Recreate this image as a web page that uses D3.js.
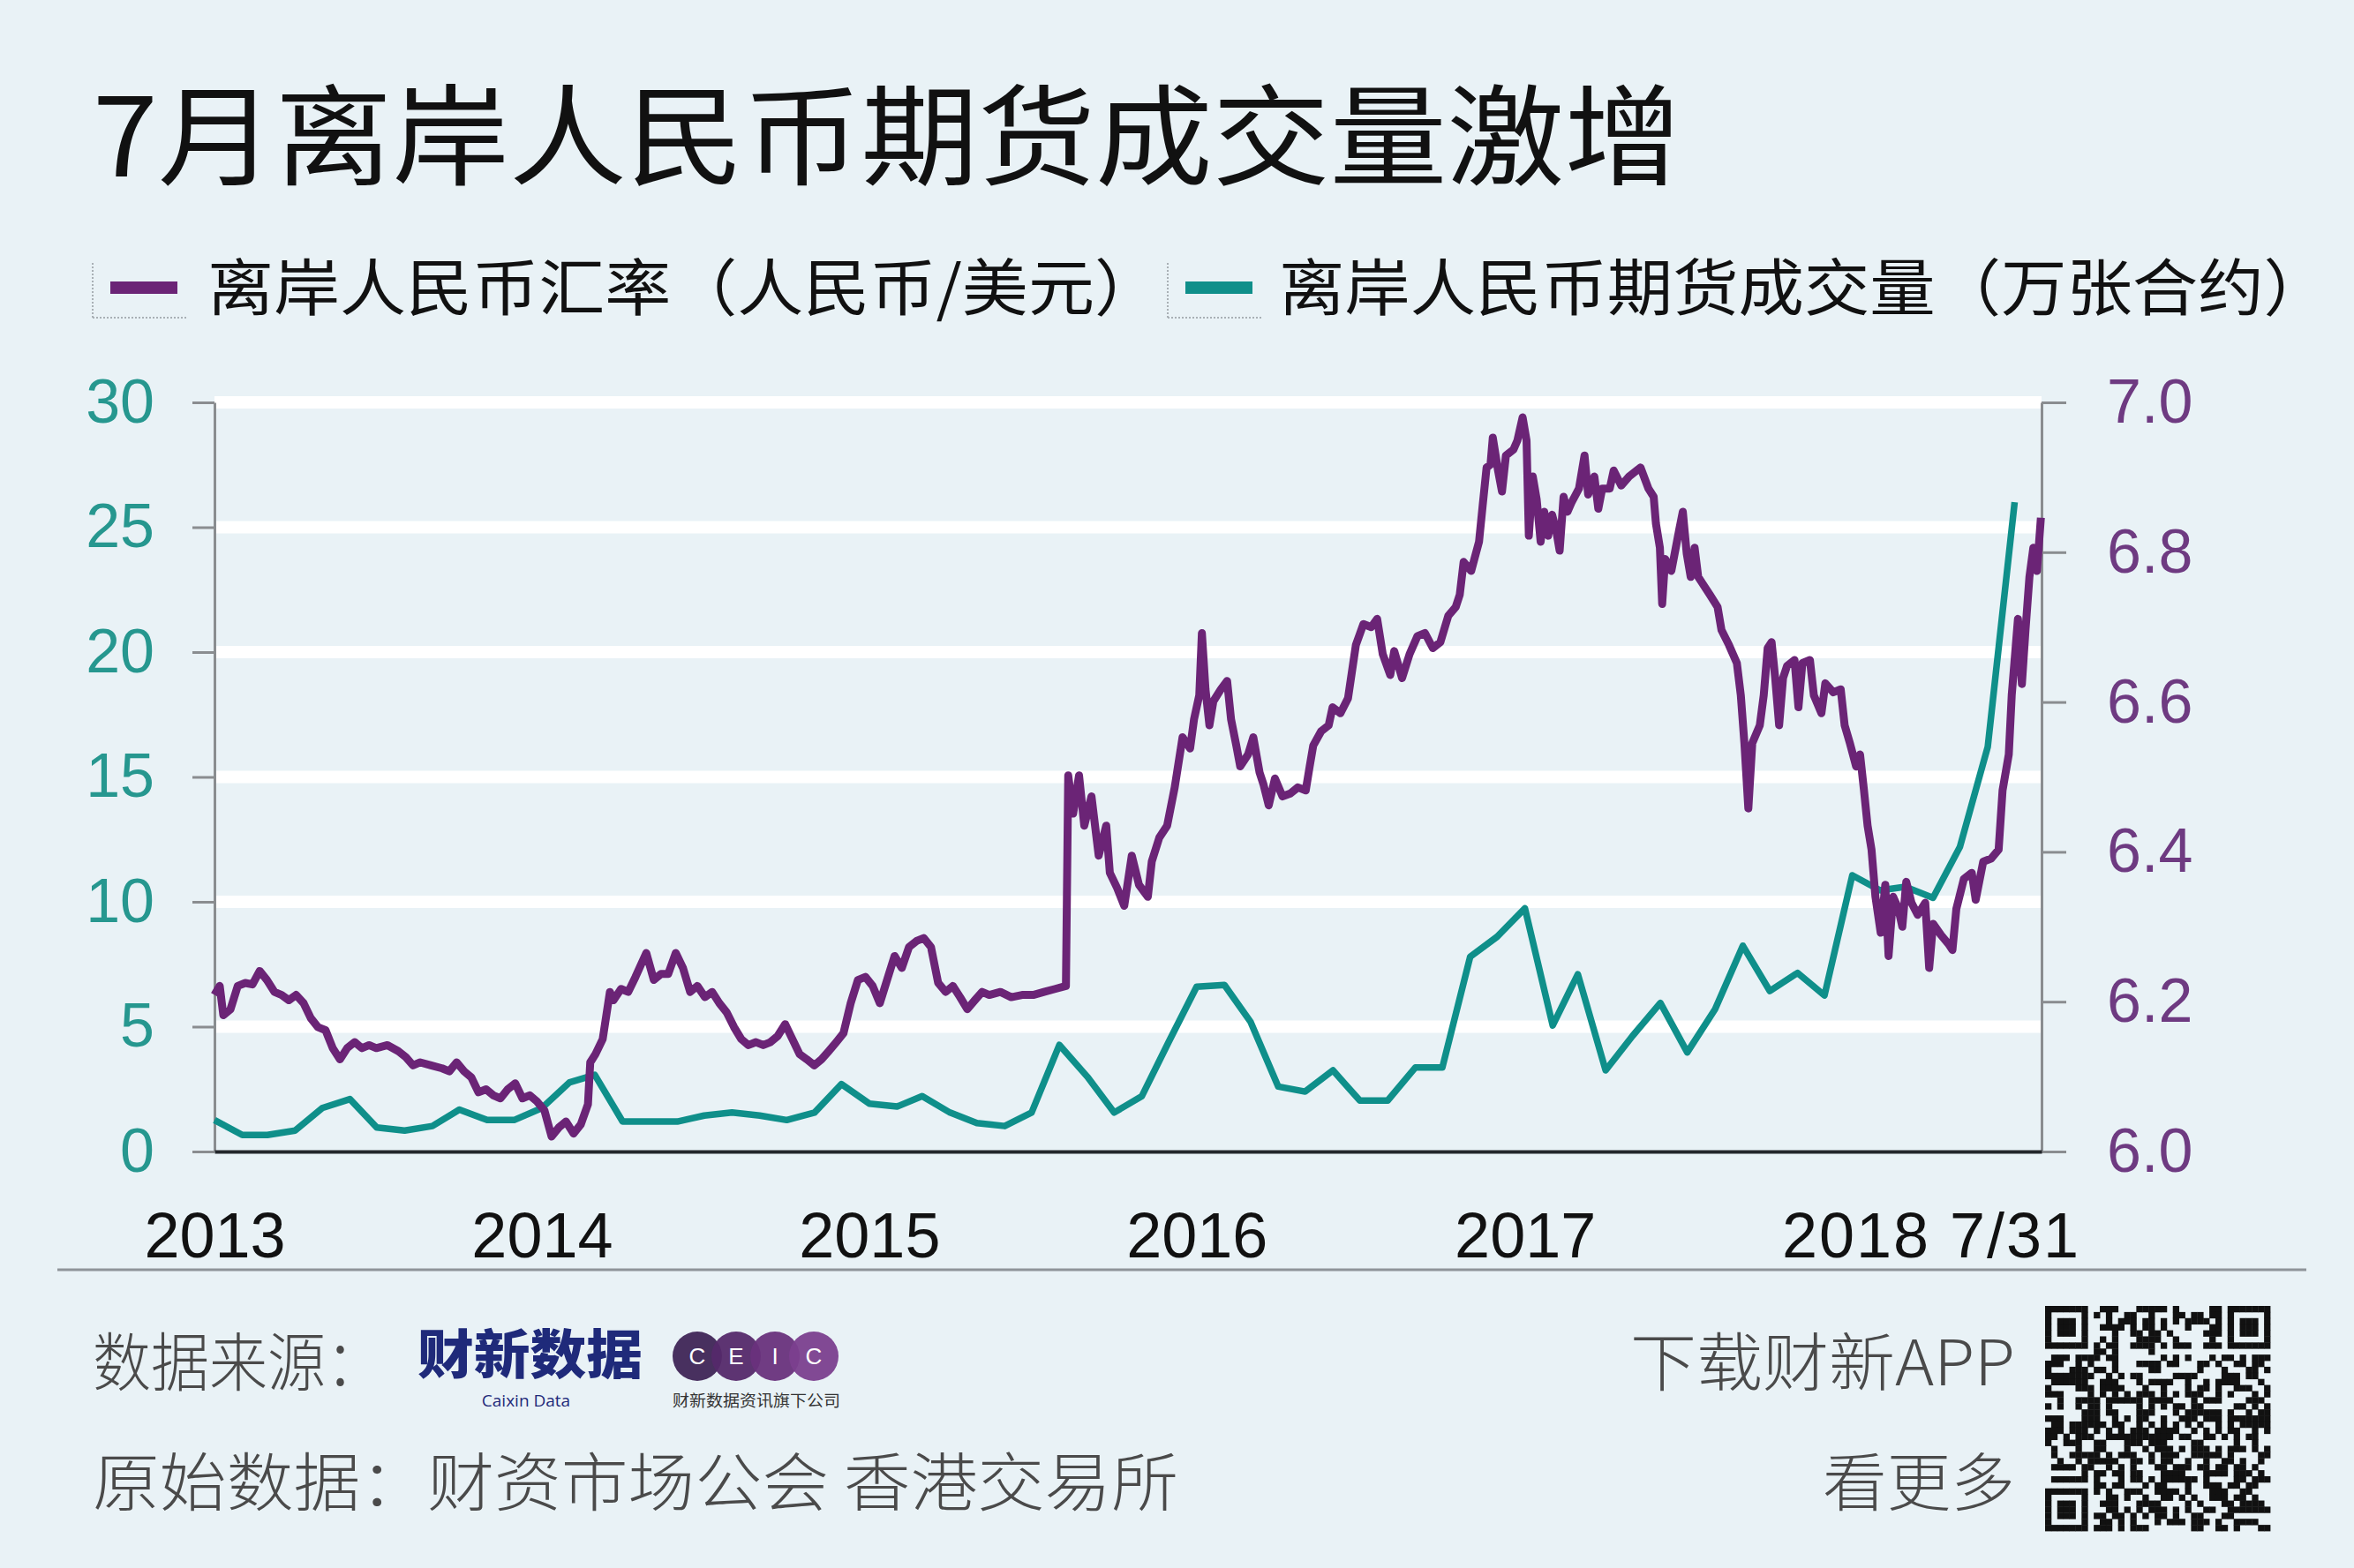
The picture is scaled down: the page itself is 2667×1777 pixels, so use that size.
<!DOCTYPE html>
<html lang="zh">
<head>
<meta charset="UTF-8"/>
<title>7月离岸人民币期货成交量激增</title>
<script src="https://d3js.org/d3.v7.min.js"></script>
<style>
  body { margin: 0; background: #e9f2f6; }
  svg { display: block; }
</style>
</head>
<body>
<script>
// ---- data ----
var yearTicks = [2013, 2014, 2015, 2016, 2017, 2018];
var endLabel = "7/31";
var volTicks = [0, 5, 10, 15, 20, 25, 30];
var rateTicks = [6.0, 6.2, 6.4, 6.6, 6.8, 7.0];

// 离岸人民币期货成交量（万张合约）, monthly from 2013-01 to 2018-07
var volume = [
  1.26, 0.66, 0.66, 0.84, 1.74, 2.10, 0.96, 0.84, 1.02, 1.68, 1.26, 1.26,
  1.74, 2.77, 3.07, 1.20, 1.20, 1.20, 1.44, 1.56, 1.44, 1.26, 1.56, 2.70,
  1.92, 1.80, 2.22, 1.56, 1.14, 1.02, 1.56, 4.27, 3.00, 1.56, 2.22, 4.40,
  6.60, 6.67, 5.20, 2.60, 2.40, 3.25, 2.04, 2.04, 3.37, 3.37, 7.80, 8.60,
  9.74, 5.05, 7.10, 3.25, 4.63, 5.95, 3.97, 5.70, 8.24, 6.43, 7.15, 6.25,
  11.06, 10.46, 10.60, 10.16, 12.20, 16.20, 26.00
];

// 离岸人民币汇率（人民币/美元）: [years after 2013-01-01, rate]
var cnhRate = [
  [0.000,6.209],[0.016,6.221],[0.027,6.182],[0.049,6.190],[0.071,6.221],[0.094,6.225],
  [0.116,6.223],[0.138,6.241],[0.160,6.229],[0.183,6.213],[0.205,6.209],[0.227,6.202],
  [0.249,6.209],[0.272,6.198],[0.294,6.178],[0.316,6.166],[0.339,6.162],[0.361,6.138],
  [0.383,6.123],[0.405,6.138],[0.428,6.146],[0.450,6.138],[0.472,6.142],[0.494,6.138],
  [0.528,6.142],[0.561,6.134],[0.584,6.126],[0.606,6.115],[0.628,6.119],[0.661,6.115],
  [0.695,6.111],[0.717,6.107],[0.739,6.119],[0.762,6.107],[0.784,6.099],[0.806,6.079],
  [0.829,6.083],[0.851,6.075],[0.873,6.071],[0.895,6.083],[0.918,6.091],[0.940,6.071],
  [0.962,6.075],[0.984,6.067],[1.007,6.055],[1.029,6.020],[1.051,6.032],[1.073,6.040],
  [1.096,6.024],[1.118,6.036],[1.140,6.063],[1.147,6.119],[1.163,6.130],[1.185,6.150],
  [1.207,6.213],[1.218,6.202],[1.241,6.217],[1.263,6.213],[1.285,6.233],[1.318,6.265],
  [1.341,6.229],[1.363,6.237],[1.385,6.237],[1.408,6.265],[1.430,6.245],[1.452,6.213],
  [1.474,6.221],[1.497,6.206],[1.519,6.213],[1.541,6.198],[1.563,6.186],[1.586,6.166],
  [1.608,6.150],[1.630,6.142],[1.653,6.146],[1.675,6.142],[1.697,6.146],[1.719,6.154],
  [1.742,6.170],[1.764,6.150],[1.786,6.130],[1.808,6.123],[1.831,6.115],[1.853,6.123],
  [1.875,6.134],[1.898,6.146],[1.920,6.158],[1.942,6.198],[1.964,6.229],[1.987,6.233],
  [2.009,6.221],[2.031,6.198],[2.053,6.229],[2.076,6.261],[2.098,6.245],[2.120,6.273],
  [2.143,6.281],[2.165,6.285],[2.187,6.273],[2.209,6.225],[2.232,6.213],[2.254,6.221],
  [2.276,6.206],[2.298,6.190],[2.321,6.202],[2.343,6.213],[2.365,6.209],[2.399,6.213],
  [2.432,6.206],[2.465,6.209],[2.499,6.209],[2.532,6.213],[2.566,6.217],[2.599,6.221],
  [2.606,6.502],[2.621,6.451],[2.639,6.502],[2.655,6.435],[2.677,6.474],[2.699,6.395],
  [2.722,6.435],[2.733,6.372],[2.755,6.352],[2.777,6.328],[2.800,6.395],[2.822,6.356],
  [2.849,6.340],[2.861,6.387],[2.884,6.419],[2.908,6.435],[2.931,6.486],[2.955,6.553],
  [2.978,6.538],[2.990,6.577],[3.006,6.609],[3.014,6.692],[3.025,6.617],[3.037,6.569],
  [3.049,6.601],[3.072,6.617],[3.091,6.628],[3.103,6.577],[3.119,6.542],[3.131,6.514],
  [3.155,6.530],[3.171,6.553],[3.190,6.506],[3.202,6.490],[3.218,6.462],[3.237,6.498],
  [3.260,6.474],[3.284,6.478],[3.307,6.486],[3.331,6.482],[3.343,6.514],[3.354,6.542],
  [3.378,6.561],[3.401,6.569],[3.413,6.593],[3.437,6.585],[3.460,6.605],[3.484,6.676],
  [3.507,6.704],[3.531,6.700],[3.549,6.711],[3.566,6.664],[3.589,6.636],[3.601,6.668],
  [3.625,6.632],[3.648,6.664],[3.672,6.688],[3.695,6.692],[3.719,6.672],[3.742,6.680],
  [3.766,6.715],[3.789,6.727],[3.801,6.743],[3.813,6.787],[3.836,6.775],[3.860,6.814],
  [3.871,6.862],[3.883,6.913],[3.895,6.917],[3.902,6.953],[3.918,6.909],[3.930,6.881],
  [3.942,6.929],[3.965,6.937],[3.977,6.949],[3.993,6.980],[4.005,6.949],[4.012,6.822],
  [4.024,6.901],[4.036,6.870],[4.048,6.814],[4.059,6.854],[4.071,6.822],[4.083,6.850],
  [4.095,6.830],[4.106,6.802],[4.118,6.874],[4.130,6.854],[4.142,6.866],[4.165,6.885],
  [4.182,6.929],[4.193,6.877],[4.212,6.901],[4.224,6.858],[4.236,6.885],[4.259,6.885],
  [4.271,6.909],[4.294,6.889],[4.318,6.901],[4.341,6.909],[4.353,6.913],[4.377,6.885],
  [4.393,6.874],[4.400,6.838],[4.412,6.806],[4.419,6.731],[4.428,6.791],[4.447,6.775],
  [4.471,6.830],[4.482,6.854],[4.494,6.798],[4.506,6.767],[4.518,6.806],[4.529,6.767],
  [4.541,6.759],[4.565,6.743],[4.588,6.727],[4.600,6.696],[4.623,6.676],[4.647,6.652],
  [4.659,6.609],[4.670,6.545],[4.682,6.458],[4.694,6.545],[4.717,6.569],[4.729,6.609],
  [4.741,6.672],[4.753,6.680],[4.764,6.632],[4.776,6.569],[4.788,6.632],[4.800,6.648],
  [4.823,6.656],[4.835,6.593],[4.847,6.652],[4.870,6.656],[4.882,6.609],[4.905,6.585],
  [4.917,6.625],[4.941,6.613],[4.964,6.617],[4.976,6.569],[4.992,6.545],[5.011,6.514],
  [5.023,6.530],[5.035,6.482],[5.046,6.435],[5.058,6.403],[5.070,6.340],[5.086,6.292],
  [5.100,6.356],[5.110,6.261],[5.124,6.340],[5.140,6.324],[5.152,6.300],[5.164,6.360],
  [5.180,6.332],[5.199,6.316],[5.222,6.332],[5.234,6.245],[5.246,6.304],[5.270,6.289],
  [5.293,6.277],[5.305,6.269],[5.317,6.324],[5.340,6.364],[5.364,6.372],[5.376,6.336],
  [5.399,6.387],[5.423,6.391],[5.446,6.403],[5.458,6.482],[5.477,6.530],[5.486,6.609],
  [5.505,6.711],[5.517,6.624],[5.528,6.696],[5.540,6.767],[5.552,6.806],[5.563,6.775],
  [5.575,6.846]
];

// ---- layout ----
var W = 2667, H = 1777;
var plotL = 243, plotR = 2313, plotT = 456, plotB = 1305;
var teal = "#0f8f8a", purple = "#6b2476";
var cjk = "'Noto Sans CJK SC', 'Noto Sans', sans-serif";
var num = "'Liberation Sans', Arial, sans-serif";

var svg = d3.select("body").append("svg")
  .attr("width", W).attr("height", H);

svg.append("rect").attr("width", W).attr("height", H).attr("fill", "#e9f2f6");

var start = new Date(2013, 0, 1);
var x = d3.scaleTime()
  .domain([start, new Date(2018, 6, 31)])
  .range([plotL, plotR]);
var yVol = d3.scaleLinear().domain([0, 30]).range([plotB, plotT]);
var yRate = d3.scaleLinear().domain([6, 7]).range([plotB, plotT]);

function yearsToDate(t) {
  return new Date(start.getTime() + t * 365.25 * 86400000);
}
var months = d3.timeMonth.range(start, new Date(2018, 7, 1));

// title
svg.append("text")
  .attr("x", 105).attr("y", 200)
  .attr("font-family", cjk).attr("font-size", 124).attr("font-weight", 400)
  .attr("fill", "#111")
  .attr("textLength", 1800).attr("lengthAdjust", "spacingAndGlyphs")
  .text("7月离岸人民币期货成交量激增");

// legend
var legend = [
  {label: "离岸人民币汇率（人民币/美元）", color: purple, bx: 105, tx: 235, len: 1080},
  {label: "离岸人民币期货成交量（万张合约）", color: teal, bx: 1323, tx: 1449, len: 1190}
];
legend.forEach(function(l) {
  var g = svg.append("g");
  g.append("line").attr("x1", l.bx).attr("x2", l.bx).attr("y1", 298).attr("y2", 360)
    .attr("stroke", "#a9b0b5").attr("stroke-width", 2).attr("stroke-dasharray", "2,2");
  g.append("line").attr("x1", l.bx).attr("x2", l.bx + 108).attr("y1", 360).attr("y2", 360)
    .attr("stroke", "#a9b0b5").attr("stroke-width", 2).attr("stroke-dasharray", "2,2");
  g.append("rect").attr("x", l.bx + 20).attr("y", 319).attr("width", 76).attr("height", 14)
    .attr("fill", l.color);
  g.append("text").attr("x", l.tx).attr("y", 352)
    .attr("font-family", cjk).attr("font-size", 70).attr("fill", "#111")
    .attr("textLength", l.len).attr("lengthAdjust", "spacingAndGlyphs")
    .text(l.label);
});

// grid bands
svg.append("g").selectAll("line")
  .data(volTicks.filter(function(d) { return d > 0; }))
  .enter().append("line")
  .attr("x1", plotL).attr("x2", plotR)
  .attr("y1", function(d) { return yVol(d); })
  .attr("y2", function(d) { return yVol(d); })
  .attr("stroke", "#ffffff").attr("stroke-width", 14);

// left axis
var axL = svg.append("g").attr("transform", "translate(" + plotL + ",0)")
  .call(d3.axisLeft(yVol).tickValues(volTicks).tickSize(25).tickSizeOuter(0).tickPadding(43));
axL.select(".domain").attr("stroke", "#8a8d90").attr("stroke-width", 3);
axL.selectAll(".tick line").attr("stroke", "#8a8d90").attr("stroke-width", 3);
axL.selectAll(".tick text").attr("font-family", num).attr("font-size", 70)
  .attr("fill", "#26978f");

// right axis
var axR = svg.append("g").attr("transform", "translate(" + plotR + ",0)")
  .call(d3.axisRight(yRate).tickValues(rateTicks).tickSize(28).tickSizeOuter(0)
    .tickPadding(46).tickFormat(d3.format(".1f")));
axR.select(".domain").attr("stroke", "#8a8d90").attr("stroke-width", 3);
axR.selectAll(".tick line").attr("stroke", "#8a8d90").attr("stroke-width", 3);
axR.selectAll(".tick text").attr("font-family", num).attr("font-size", 70)
  .attr("fill", "#6e3a81");

// bottom axis
var yearDates = yearTicks.map(function(y) { return new Date(y, 0, 1); });
var axB = svg.append("g").attr("transform", "translate(0," + plotB + ")")
  .call(d3.axisBottom(x).tickValues(yearDates).tickSize(0).tickPadding(69)
    .tickFormat(function(d) {
      var y = d.getFullYear();
      return y === 2018 ? y + " " + endLabel : y;
    }));
axB.select(".domain").attr("stroke", "#23272b").attr("stroke-width", 4);
axB.selectAll(".tick text").attr("font-family", num).attr("font-size", 72)
  .attr("fill", "#111")
  .filter(function(d) { return d.getFullYear() === 2018; })
  .attr("text-anchor", "start").attr("dx", -80)
  .attr("textLength", 336).attr("lengthAdjust", "spacing");

// series
var volLine = d3.line()
  .x(function(d, i) { return x(months[i]); })
  .y(function(d) { return yVol(d); });
svg.append("path").datum(volume)
  .attr("d", volLine)
  .attr("fill", "none").attr("stroke", teal).attr("stroke-width", 7.5)
  .attr("stroke-linejoin", "round");

var rateLine = d3.line()
  .x(function(d) { return x(yearsToDate(d[0])); })
  .y(function(d) { return yRate(d[1]); });
svg.append("path").datum(cnhRate)
  .attr("d", rateLine)
  .attr("fill", "none").attr("stroke", purple).attr("stroke-width", 9)
  .attr("stroke-linejoin", "round");

// separator
svg.append("line").attr("x1", 65).attr("x2", 2613).attr("y1", 1439).attr("y2", 1439)
  .attr("stroke", "#8f9499").attr("stroke-width", 3);

// footer text
var foot = [
  {t: "数据来源：", x: 105, y: 1570, len: 330},
  {t: "原始数据：财资市场公会 香港交易所", x: 105, y: 1706, len: 1230},
  {t: "下载财新APP", x: 1847, y: 1570, len: 436},
  {t: "看更多", x: 2065, y: 1706, len: 218}
];
svg.append("g").selectAll("text").data(foot).enter().append("text")
  .attr("x", function(d) { return d.x; })
  .attr("y", function(d) { return d.y; })
  .attr("textLength", function(d) { return d.len; })
  .attr("lengthAdjust", "spacingAndGlyphs")
  .attr("font-family", cjk).attr("font-size", 72).attr("font-weight", 300)
  .attr("fill", "#4a4a4a")
  .text(function(d) { return d.t; });

// 财新数据 logo
svg.append("text").attr("x", 473).attr("y", 1557)
  .attr("font-family", cjk).attr("font-size", 60).attr("font-weight", 900)
  .attr("fill", "#1f2a7a").attr("textLength", 255).attr("lengthAdjust", "spacingAndGlyphs")
  .text("财新数据");
svg.append("text").attr("x", 596).attr("y", 1594).attr("text-anchor", "middle")
  .attr("font-family", "'Open Sans', sans-serif").attr("font-size", 19)
  .attr("fill", "#1f2a7a").text("Caixin Data");

// CEIC logo
var ceic = ["C", "E", "I", "C"];
var ceicFill = ["#3f2556", "#55296a", "#69317c", "#7b3f8e"];
var logo = svg.append("g");
ceic.forEach(function(c, i) {
  var cx = 790 + i * 44;
  logo.append("circle").attr("cx", cx).attr("cy", 1537).attr("r", 28)
    .attr("fill", ceicFill[i]).attr("fill-opacity", 0.95);
});
ceic.forEach(function(c, i) {
  logo.append("text").attr("x", 790 + i * 44).attr("y", 1546).attr("text-anchor", "middle")
    .attr("font-family", num).attr("font-size", 26).attr("fill", "#fff").text(c);
});
logo.append("text").attr("x", 857).attr("y", 1594).attr("text-anchor", "middle")
  .attr("font-family", cjk).attr("font-size", 18).attr("fill", "#333")
  .attr("textLength", 190).attr("lengthAdjust", "spacingAndGlyphs")
  .text("财新数据资讯旗下公司");

// QR code (decorative)
var qN = 37, qx = 2317, qy = 1480, qs = 255 / qN;
var qr = svg.append("g");
function finder(r, c) {
  var f = [[0, 0], [0, qN - 7], [qN - 7, 0]];
  for (var k = 0; k < 3; k++) {
    var dr = r - f[k][0], dc = c - f[k][1];
    if (dr >= -1 && dr <= 7 && dc >= -1 && dc <= 7) {
      if (dr < 0 || dr > 6 || dc < 0 || dc > 6) return 0;
      var m = Math.max(Math.abs(dr - 3), Math.abs(dc - 3));
      return m === 2 ? 0 : 1;
    }
  }
  return -1;
}
for (var r = 0; r < qN; r++) {
  for (var c = 0; c < qN; c++) {
    var v = finder(r, c);
    if (v === -1) {
      var h = Math.sin(r * 12.9898 + c * 78.233) * 43758.5453;
      v = (h - Math.floor(h)) > 0.5 ? 1 : 0;
    }
    if (v) {
      qr.append("rect").attr("x", qx + c * qs).attr("y", qy + r * qs)
        .attr("width", qs + 0.4).attr("height", qs + 0.4).attr("fill", "#111");
    }
  }
}
</script>
</body>
</html>
